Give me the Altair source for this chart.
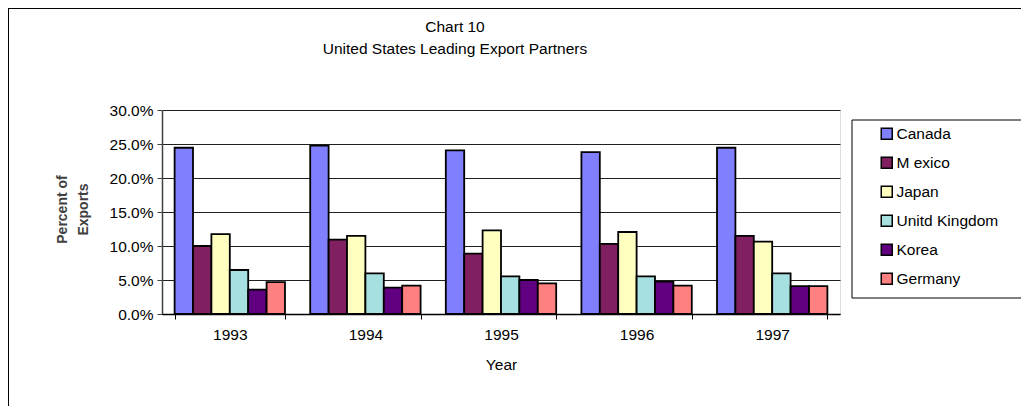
import altair as alt
import pandas as pd

years = ["1993", "1994", "1995", "1996", "1997"]
countries = ["Canada", "M exico", "Japan", "Unitd Kingdom", "Korea", "Germany"]
canada = [0.2445, 0.2475, 0.2406, 0.2380, 0.2445]
mexico = [0.1000, 0.1093, 0.0887, 0.1030, 0.1150]
japan = [0.1176, 0.1150, 0.1230, 0.1206, 0.1063]
uk = [0.0647, 0.0597, 0.0553, 0.0553, 0.0597]
korea = [0.0357, 0.0387, 0.0500, 0.0475, 0.0410]
germany = [0.0470, 0.0416, 0.0450, 0.0416, 0.0410]
colors = ["#8080FF", "#802060", "#FFFFC0", "#A6E0E0", "#600080", "#FF8080"]
y_ticks = [0.0, 0.05, 0.10, 0.15, 0.20, 0.25, 0.30]

series = [canada, mexico, japan, uk, korea, germany]
rows = []
for c, vals in zip(countries, series):
    for yr, v in zip(years, vals):
        rows.append({"year": yr, "country": c, "value": v})
df = pd.DataFrame(rows)

FONT = "Liberation Sans"
FS = 15.5

bars = alt.Chart(df).mark_bar(stroke="black", strokeWidth=1.8).encode(
    x=alt.X(
        "year:N",
        sort=years,
        scale=alt.Scale(paddingInner=0.186, paddingOuter=0.093),
        axis=alt.Axis(
            labelAngle=0, tickBand="extent", labelFontSize=FS, labelFont=FONT,
            labelColor="black", domainColor="black", domainWidth=1.5,
            tickColor="black", tickSize=5, labelPadding=8, grid=False,
            title="Year", titleFontSize=FS, titleFont=FONT,
            titleFontWeight="normal", titleColor="black", titlePadding=15,
            zindex=1,
        ),
    ),
    xOffset=alt.XOffset("country:N", sort=countries,
                        scale=alt.Scale(paddingInner=0, paddingOuter=0)),
    y=alt.Y(
        "value:Q",
        scale=alt.Scale(domain=[0, 0.3], nice=False),
        axis=alt.Axis(
            format=".1%", values=y_ticks, labelFontSize=FS, labelFont=FONT,
            labelColor="black", domainColor="#404040", domainWidth=1.5,
            tickColor="#404040", tickSize=5, labelPadding=4,
            gridColor="#202020", gridWidth=1,
            title=["Percent of", "Exports"], titleFontSize=14, titleFont=FONT,
            titleFontWeight="bold", titleColor="#404040", titleAngle=270,
            titleX=-100, titleY=99, titleAlign="center",
            titleBaseline="middle", titleLineHeight=21,
        ),
    ),
    color=alt.Color(
        "country:N",
        sort=countries,
        scale=alt.Scale(domain=countries, range=colors),
        legend=alt.Legend(
            title=None, orient="none", legendX=717, legendY=16, padding=0,
            symbolType="square", symbolSize=121, symbolStrokeColor="black",
            symbolStrokeWidth=1.5, symbolOpacity=1, labelFontSize=FS,
            labelFont=FONT, labelColor="black", rowPadding=11, labelOffset=2,
        ),
    ),
)

one = pd.DataFrame({"a": [0]})

frame = alt.Chart(one).mark_rect(
    fill="white", fillOpacity=0, stroke="black", strokeWidth=2
).encode(
    x=alt.value(-154), x2=alt.value(900), y=alt.value(-102), y2=alt.value(400)
)

legend_box = alt.Chart(one).mark_rect(
    fill="white", stroke="black", strokeWidth=1
).encode(
    x=alt.value(690), x2=alt.value(864), y=alt.value(10), y2=alt.value(188)
)

chart = alt.layer(frame, bars, legend_box).properties(
    width=678,
    height=204,
    padding={"left": 154, "top": 102, "right": 181, "bottom": 92},
    autosize=alt.AutoSizeParams(type="none"),
    title=alt.TitleParams(
        text=["Chart 10", "United States Leading Export Partners"],
        fontSize=FS, font=FONT, fontWeight="normal", color="black",
        anchor="middle", dx=-46, offset=-50, lineHeight=22,
    ),
).configure_view(
    fill="#C0C0C0", stroke="#808080", strokeWidth=2
).configure(background="white")

chart.save("out.html", embed_options={"renderer": "svg", "actions": False})
